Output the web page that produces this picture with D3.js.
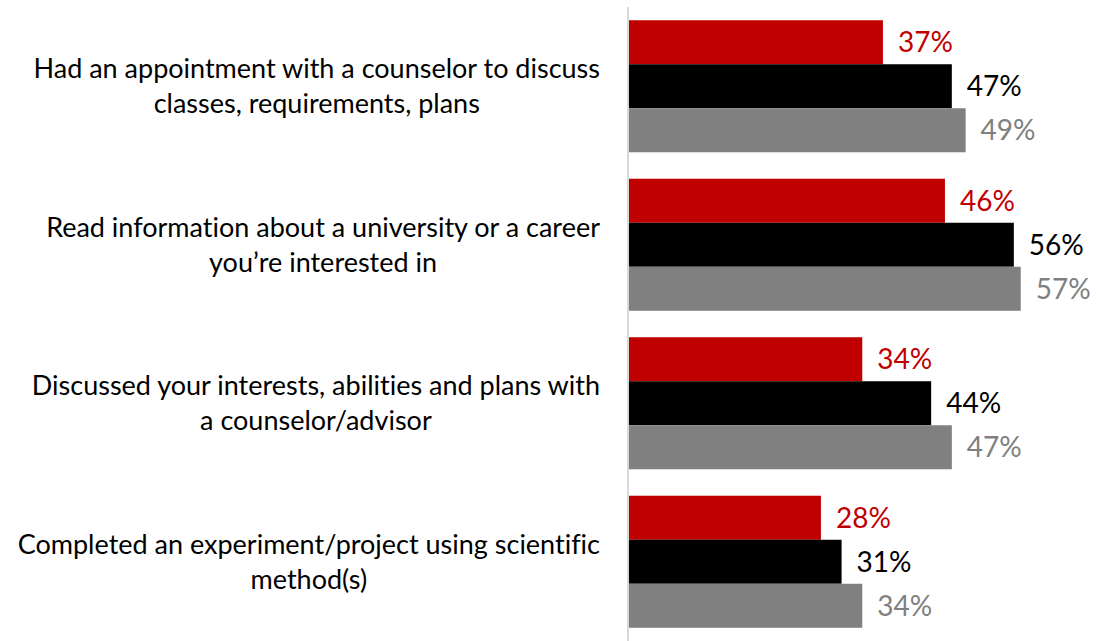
<!DOCTYPE html>
<html>
<head>
<meta charset="utf-8">
<script src="https://cdn.jsdelivr.net/npm/d3@7"></script>
<style>
  body { margin: 0; background: #fff; }
  svg text { font-family: Lato, "Open Sans", sans-serif; font-variant-ligatures: none; }
</style>
</head>
<body>
<div id="chart"></div>
<script>

// Data
var categories = [
    "Had an appointment with a counselor to discuss classes, requirements, plans",
    "Read information about a university or a career you\u2019re interested in",
    "Discussed your interests, abilities and plans with a counselor/advisor",
    "Completed an experiment/project using scientific method(s)"
];
var labelLines = [
    ["Had an appointment with a counselor to discuss", "classes, requirements, plans"],
    ["Read information about a university or a career", "you\u2019re interested in"],
    ["Discussed your interests, abilities and plans with", "a counselor/advisor"],
    ["Completed an experiment/project using scientific", "method(s)"]
];
var seriesNames = ["Series 1", "Series 2", "Series 3"];
var series1 = [37, 46, 34, 28];
var series2 = [47, 56, 44, 31];
var series3 = [49, 57, 47, 34];

var barColors = ["#c00000", "#000000", "#808080"];
var textColors = ["#c00000", "#000000", "#808080"];


// SVG drawing area
var width = 1096,
    height = 641;

var svg = d3.select("#chart").append("svg")
    .attr("width", width)
    .attr("height", height);


// Scales
var x = d3.scaleLinear()
    .domain([0, 100])
    .range([628, 1317]);

var y = d3.scaleBand()
    .domain(categories)
    .range([7, 641])
    .paddingInner(0.167)
    .paddingOuter(0.0835);

var ySub = d3.scaleBand()
    .domain(seriesNames)
    .range([0, y.bandwidth()]);


// Build rows
var allSeries = [series1, series2, series3];
var rows = categories.map(function(c, i) {
    return {
        cat: c,
        lines: labelLines[i],
        values: seriesNames.map(function(s, j) {
            return { name: s, value: allSeries[j][i], idx: j };
        })
    };
});


// Bars
var groups = svg.selectAll("g.group")
    .data(rows)
    .enter().append("g")
    .attr("class", "group")
    .attr("transform", function(d) { return "translate(0," + y(d.cat) + ")"; });

groups.selectAll("rect")
    .data(function(d) { return d.values; })
    .enter().append("rect")
    .attr("x", x(0))
    .attr("y", function(d) { return ySub(d.name); })
    .attr("width", function(d) { return x(d.value) - x(0); })
    .attr("height", ySub.bandwidth())
    .attr("fill", function(d) { return barColors[d.idx]; });

// Value labels
groups.selectAll("text.val")
    .data(function(d) { return d.values; })
    .enter().append("text")
    .attr("class", "val")
    .attr("x", function(d) { return x(d.value) + 15; })
    .attr("y", function(d) { return ySub(d.name) + ySub.bandwidth() / 2; })
    .attr("dy", "0.36em")
    .style("font-size", "28px")
    .attr("fill", function(d) { return textColors[d.idx]; })
    .text(function(d) { return d.value + "%"; });


// Axis line
svg.append("line")
    .attr("x1", x(0))
    .attr("x2", x(0))
    .attr("y1", y.range()[0])
    .attr("y2", y.range()[1])
    .attr("stroke", "#d9d9d9")
    .attr("stroke-width", 2);


// Category labels: first line ends near the axis, second line centred under it
groups.each(function(d) {
    var g = d3.select(this);
    var mid = y.bandwidth() / 2;

    var first = g.append("text")
        .attr("x", 600)
        .attr("y", mid - 17.5)
        .attr("dy", "0.35em")
        .attr("text-anchor", "end")
        .style("font-size", "27px")
        .attr("fill", "#000")
        .text(d.lines[0]);

    var w = first.node().getComputedTextLength();

    g.append("text")
        .attr("x", 600 - w / 2)
        .attr("y", mid + 17.5)
        .attr("dy", "0.35em")
        .attr("text-anchor", "middle")
        .style("font-size", "27px")
        .attr("fill", "#000")
        .text(d.lines[1]);
});

</script>
</body>
</html>
